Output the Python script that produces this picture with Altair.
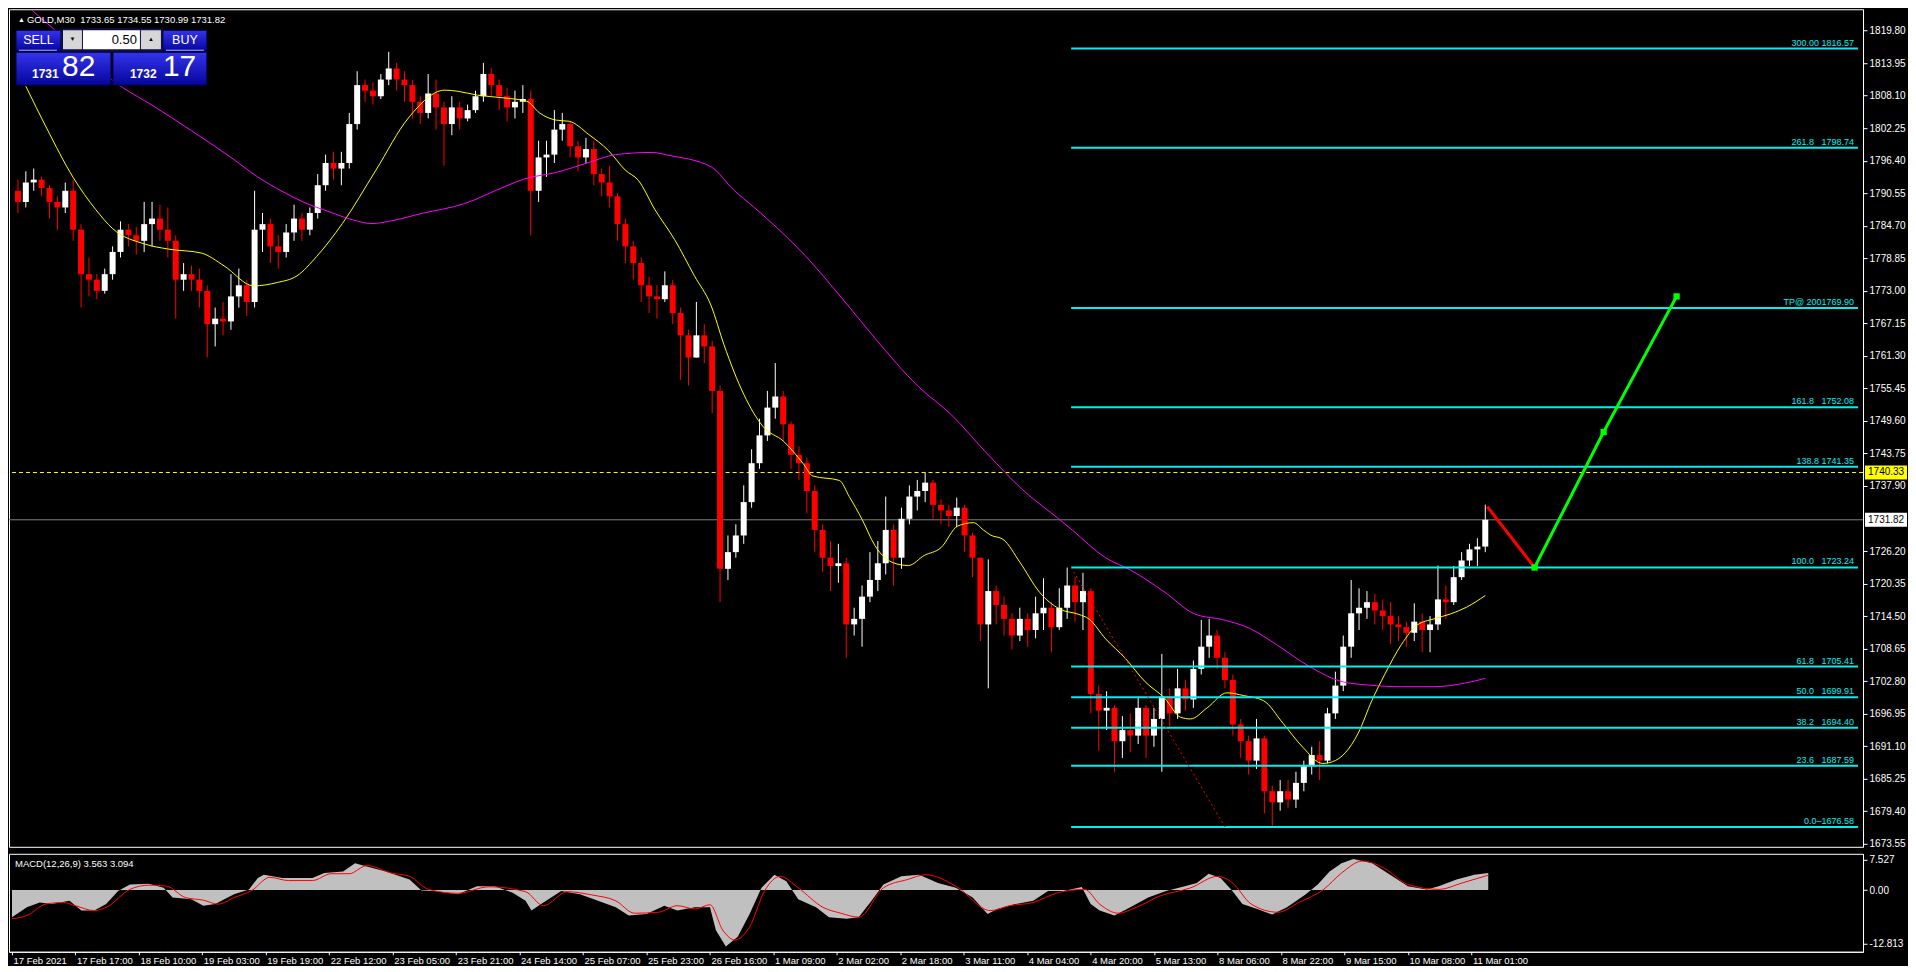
import json
import altair as alt
import pandas as pd

# ---------------- layout ----------------
W = 1855
H_MAIN = 838
H_MACD = 98
X_MAX = 935
FONT = "Liberation Sans"
BG = "#000000"
CYAN = "#00F0F0"

# ---------------- candles (M30, 4 bars grouped) ----------------
first_open = 1791.0
closes = [
    1789, 1792.5, 1793, 1791.5, 1789, 1788, 1791, 1784, 1776, 1775,
    1773, 1776, 1780, 1784, 1783, 1782, 1785, 1786, 1784, 1782,
    1775, 1776, 1775, 1773, 1767, 1768, 1767.5, 1772, 1774, 1771,
    1784, 1785, 1781, 1780, 1783.5, 1786, 1784, 1787, 1792, 1796,
    1795, 1796, 1803, 1810, 1809, 1808, 1811, 1813, 1811, 1810,
    1807, 1805, 1808.5, 1806, 1803, 1806, 1804, 1805.5, 1808, 1812,
    1810, 1808, 1806, 1807, 1807.5, 1791, 1797, 1797.5, 1802, 1803,
    1799, 1797, 1798.5, 1794, 1792.5, 1790, 1785, 1781, 1778, 1774,
    1772, 1771.5, 1774, 1769, 1765, 1761, 1765, 1763, 1755, 1723,
    1726, 1729, 1735, 1742, 1747, 1752, 1754, 1749, 1743.5, 1742,
    1737, 1730, 1725, 1723.5, 1724, 1713, 1714, 1718, 1721, 1724,
    1730, 1725, 1732, 1736, 1737, 1738.5, 1734.5, 1733.5, 1732.5, 1734,
    1729, 1725, 1713, 1719, 1716.5, 1714, 1711, 1714, 1712, 1715,
    1716, 1712.5, 1716, 1720, 1717, 1719, 1700.5, 1697.5, 1698, 1692,
    1694, 1693, 1698, 1693, 1696, 1700, 1697, 1701.5, 1699.5, 1705,
    1709, 1711, 1707, 1703, 1695, 1692, 1688.5, 1692.5, 1683, 1681,
    1683, 1681.5, 1684.5, 1687.5, 1689.5, 1688.5, 1697, 1702, 1709, 1715,
    1716, 1717, 1715.5, 1714.5, 1713, 1712.5, 1711.5, 1713.5, 1712, 1713,
    1717.5, 1717, 1721.5, 1724.5, 1726.5, 1727, 1731.82,
]
highs = [
    1793, 1794.5, 1795, 1793.5, 1792, 1790, 1792.5, 1793, 1785, 1779,
    1776, 1777, 1781, 1785.5, 1785, 1784.5, 1789, 1789, 1788.5, 1788,
    1783, 1778, 1777.5, 1777, 1774, 1770, 1771, 1776, 1777, 1775,
    1791, 1787, 1786, 1783, 1785, 1788.5, 1787, 1788, 1794, 1797.5,
    1798, 1798, 1805, 1812.5, 1811, 1810.5, 1812, 1816, 1814, 1812.5,
    1811, 1808, 1812, 1811, 1807, 1808, 1807, 1806.5, 1809, 1814,
    1813, 1811, 1809.5, 1809, 1810, 1809, 1800, 1800, 1805.5, 1805,
    1803.5, 1800, 1800.5, 1800, 1795, 1795.5, 1790.5, 1786, 1782, 1779,
    1775.5, 1774, 1776.5, 1775, 1770, 1766, 1771, 1767, 1764, 1756,
    1729, 1731, 1738, 1744.5, 1750, 1755, 1760, 1755, 1749.5, 1745,
    1743, 1738, 1731, 1728, 1727.5, 1725, 1716, 1720, 1726, 1728,
    1736, 1731, 1734, 1738, 1739, 1740.3, 1739, 1735.5, 1734.5, 1735.8,
    1734.5, 1729.5, 1725, 1724.7, 1720, 1718, 1715, 1716, 1715, 1718,
    1721.3, 1717, 1719.5, 1723.24, 1721.5, 1722.3, 1719.5, 1702, 1701, 1698.5,
    1696.5, 1697, 1700, 1698.5, 1698, 1707.7, 1701.5, 1705, 1703, 1706.5,
    1713.8, 1714, 1712, 1708, 1704, 1696, 1693, 1696, 1693, 1684,
    1685, 1685, 1686.5, 1688.5, 1691, 1692, 1698, 1704.5, 1711, 1721,
    1719.5, 1719, 1718.5, 1717.5, 1717, 1714.5, 1713.5, 1716.8, 1715, 1714.5,
    1723.6, 1720, 1723.5, 1726, 1727.5, 1728.5, 1734.55,
]
lows = [
    1787, 1788, 1791, 1790, 1786, 1784, 1787, 1782, 1770, 1772,
    1771.5, 1772.5, 1775, 1779, 1781, 1779.5, 1780, 1781, 1782, 1779,
    1768, 1773, 1773, 1770, 1761, 1763, 1765, 1766, 1770, 1768.5,
    1770, 1780, 1778, 1777, 1779, 1782, 1782, 1783, 1786, 1791,
    1793, 1792, 1795, 1802, 1807, 1806.5, 1807.5, 1810, 1809, 1807,
    1804, 1803, 1804, 1802, 1795.5, 1801, 1802, 1803.5, 1805, 1807,
    1808, 1805.5, 1803.5, 1804, 1805, 1783, 1789, 1793.5, 1796, 1800,
    1797, 1794.5, 1796, 1792, 1790, 1788, 1782, 1778, 1775, 1771,
    1769, 1768, 1771, 1767, 1757, 1756, 1761, 1760, 1751, 1717,
    1721, 1725, 1727.5, 1734, 1741, 1746, 1750, 1746, 1741, 1739,
    1733, 1726, 1722.5, 1719, 1720.5, 1707, 1711, 1709, 1717, 1719,
    1722, 1720, 1723, 1731, 1733.5, 1735, 1732, 1731, 1730.5, 1730.5,
    1726, 1721.5, 1710, 1701.5, 1713, 1711, 1708.5, 1710, 1709, 1710.5,
    1712, 1708, 1712, 1714, 1713.5, 1712, 1697, 1690.3, 1694, 1686.5,
    1689, 1690, 1691.5, 1689, 1691, 1686.5, 1694.5, 1696, 1697.5, 1698,
    1704, 1707, 1705, 1701.5, 1693, 1689, 1686, 1687, 1679, 1676.6,
    1679.5, 1680, 1680, 1683, 1686, 1685, 1688, 1696, 1701, 1707,
    1712, 1714, 1713, 1712, 1709.5, 1710, 1709, 1710, 1708, 1708,
    1712, 1714, 1716.5, 1721, 1723.5, 1723.5, 1726,
]
opens = [first_open] + closes[:-1]
bars = [4 * i + 2 for i in range(len(closes))]
candles = pd.DataFrame({"bar": bars, "open": opens, "high": highs, "low": lows, "close": closes})
candles["dir"] = ["up" if c >= o else "down" for o, c in zip(opens, closes)]

# ---------------- moving averages ----------------
ma_fast_bar = [6, 16.5, 30, 41.5, 50, 66.5, 78.5, 95, 106.5, 121.5, 133.5, 143.5, 153.5, 166.5,
               183.5, 200, 218.5, 225, 235, 248.5, 260, 266.5, 275, 281.5, 291.5, 301.5, 310,
               316.5, 325, 335, 345, 353.5, 360, 370, 380, 390, 400, 405, 418.5, 423.5, 430,
               436.5, 446.5, 453.5, 461.5, 470, 478.5, 486.5, 491.5, 495, 501.5, 510, 520, 530,
               540, 545, 553.5, 563.5, 573.5, 583.5, 591.5, 596.5, 605, 615, 623.5, 633.5, 643.5,
               653.5, 663.5, 668.5, 675, 681.5, 688.5, 695, 703.5, 711.5, 720, 728.5, 736.5, 746]
ma_fast_val = [1809.8, 1802.3, 1793.4, 1787.6, 1784.2, 1781.4, 1780.5, 1779.8, 1777.5, 1773.9,
               1774.5, 1775.7, 1779.2, 1785.1, 1794.7, 1804.1, 1809.1, 1808.9, 1808.2, 1807.7,
               1807.1, 1805.0, 1803.7, 1803.5, 1801.1, 1798.2, 1794.7, 1792.9, 1787.6, 1782.2,
               1775.7, 1770.3, 1763.3, 1754.4, 1748.5, 1746.0, 1742.0, 1739.7, 1738.9, 1736.0,
               1731.9, 1727.2, 1724.0, 1723.6, 1725.4, 1726.8, 1730.7, 1731.3, 1730.0, 1729.1,
               1728.3, 1724.2, 1718.8, 1715.8, 1714.8, 1714.0, 1710.4, 1706.9, 1702.7, 1699.7,
               1696.3, 1696.0, 1698.0, 1700.7, 1700.2, 1699.3, 1695.2, 1690.9, 1688.0, 1688.3,
               1689.9, 1693.4, 1699.3, 1704.0, 1709.4, 1712.9, 1714.0, 1714.9, 1716.1, 1718.2]
ma_slow_bar = [9, 18.5, 55, 70, 90, 110, 123.5, 136.5, 146.5, 160, 171.5, 181.5, 190, 206.5,
               228.5, 248.5, 258.5, 275, 291.5, 305, 323.5, 331.5, 353.5, 365, 375, 401.5, 420,
               436.5, 458.5, 475, 493.5, 511.5, 530, 536.5, 553.5, 566.5, 583.5, 598.5, 613.5,
               626.5, 640, 656.5, 673.5, 686.5, 703.5, 720, 736.5, 746]
ma_slow_val = [1823.5, 1820.6, 1809.6, 1806.4, 1801.8, 1797.0, 1793.5, 1790.8, 1789.0, 1787.2,
               1785.8, 1785.1, 1785.5, 1786.9, 1788.7, 1791.7, 1793.1, 1794.3, 1796.1, 1797.5,
               1797.9, 1797.4, 1795.3, 1791.1, 1788.1, 1779.2, 1771.6, 1764.5, 1755.8, 1750.8,
               1743.7, 1737.2, 1731.9, 1730.0, 1725.0, 1722.7, 1718.8, 1714.9, 1713.8, 1712.3,
               1709.4, 1705.5, 1702.7, 1702.1, 1701.8, 1701.8, 1702.5, 1703.3]

# ---------------- Fibonacci expansion ----------------
fib_prices = [1816.57, 1798.74, 1769.90, 1752.08, 1741.35, 1723.24, 1705.41, 1699.91, 1694.40, 1687.59, 1676.58]
NB = "\u00a0"
fib_labels = ["300.00 1816.57", "261.8" + NB * 3 + "1798.74", "TP@ 2001769.90", "161.8" + NB * 3 + "1752.08",
              "138.8 1741.35", "100.0" + NB * 3 + "1723.24", "61.8" + NB * 3 + "1705.41", "50.0" + NB * 3 + "1699.91",
              "38.2" + NB * 3 + "1694.40", "23.6" + NB * 3 + "1687.59", "0.0\u20131676.58"]
fib_start_bar = 536

trend_bar = [536, 614]
trend_price = [1723.24, 1676.58]
proj_down_bar = [747, 771]
proj_down_price = [1734.2, 1723.24]
proj_up_bar = [771, 806, 843]
proj_up_price = [1723.24, 1747.6, 1772.0]

alert_price = 1740.33
bid_price = 1731.82

# ---------------- axes ----------------
price_ticks = [1819.80, 1813.95, 1808.10, 1802.25, 1796.40, 1790.55, 1784.70, 1778.85, 1773.00,
               1767.15, 1761.30, 1755.45, 1749.60, 1743.75, 1737.90, 1726.20, 1720.35, 1714.50,
               1708.65, 1702.80, 1696.95, 1691.10, 1685.25, 1679.40, 1673.55]
time_ticks = [1.5, 33.5, 65.5, 97.5, 129.5, 161.5, 193.5, 225.5, 257.5, 289.5, 321.5, 353.5,
              385.5, 417.5, 449.5, 481.5, 513.5, 545.5, 577.5, 609.5, 641.5, 673.5, 705.5, 737.5]
time_labels = ["17 Feb 2021", "17 Feb 17:00", "18 Feb 10:00", "19 Feb 03:00", "19 Feb 19:00",
               "22 Feb 12:00", "23 Feb 05:00", "23 Feb 21:00", "24 Feb 14:00", "25 Feb 07:00",
               "25 Feb 23:00", "26 Feb 16:00", "1 Mar 09:00", "2 Mar 02:00", "2 Mar 18:00",
               "3 Mar 11:00", "4 Mar 04:00", "4 Mar 20:00", "5 Mar 13:00", "8 Mar 06:00",
               "8 Mar 22:00", "9 Mar 15:00", "10 Mar 08:00", "11 Mar 01:00"]

# ---------------- MACD ----------------
hist_bar = [1.5, 9, 15.5, 21.5, 30.5, 36.5, 43, 49, 55, 61, 70.5, 78, 82.5, 92, 98, 104, 113.5, 121,
            125.5, 128.5, 138, 153, 159, 168.5, 174.5, 180.5, 190, 202, 208, 214.5, 226.5, 236, 245,
            254, 260.5, 263.5, 269.5, 278.5, 288, 297, 306, 312.5, 321.5, 330.5, 337, 346, 353.5,
            356.5, 361.5, 367.5, 373.5, 379.5, 386, 392, 398, 407, 413.5, 422.5, 428.5, 435, 441,
            450, 459, 468.5, 477.5, 486, 493.5, 498.5, 507.5, 516.5, 524, 532, 541, 545.5, 550,
            557.5, 565.5, 574.5, 583.5, 593, 599, 605, 611, 617, 622, 629.5, 637, 644.5, 654, 660,
            666, 672, 678, 687.5, 696.5, 705.5, 715, 721, 730, 739, 746]
hist_val = [-5.63, -3.59, -2.58, -2.92, -2.24, -4.27, -4.27, -2.92, -0.2, 1.15,
            1.29, 0.47, -1.56, -1.90, -3.25, -2.92, -0.88, 0.14, 2.51, 3.19,
            2.51, 2.51, 3.53, 3.86, 5.56, 4.88, 3.86, 2.17, -0.07, -0.2,
            -0.88, 0.81, 0.81, -0.54, -2.24, -4.27, -2.58, -0.2, -0.88, -2.24,
            -3.59, -5.29, -4.95, -3.25, -4.27, -3.59, -3.59, -8.34, -11.7, -9.69,
            -4.95, 0.47, 3.19, 1.83, -1.90, -3.59, -5.63, -5.97, -5.63, -2.24,
            1.15, 2.85, 3.19, 1.49, 0.47, -1.56, -4.95, -3.93, -2.92, -2.24,
            -0.2, -0.2, 0.61, -2.92, -4.27, -5.29, -3.59, -1.56, -0.2, 0.81,
            1.49, 3.39, 2.51, -0.2, -2.92, -3.93, -5.08, -3.59, -0.88, 1.15,
            3.86, 5.56, 6.44, 5.56, 3.19, 0.81, 0.14, 0.81, 2.17, 3.19, 3.56]
signal_bar = [1.5, 9, 18.5, 27.5, 33.5, 43, 49, 61, 70.5, 79.5, 89, 98, 105.5, 113.5, 122.5, 131.5,
              141, 153, 162.5, 171.5, 180.5, 193, 202, 211.5, 226.5, 242, 260.5, 269.5, 281.5, 294,
              306, 315.5, 327.5, 337, 346, 353.5, 360, 366, 373.5, 381, 389, 398, 410.5, 419.5,
              428.5, 441, 453, 462.5, 477.5, 495, 504.5, 516.5, 529, 542.5, 550, 559.5, 568.5,
              580.5, 596, 609.5, 617, 626.5, 640, 650.5, 663, 672, 682.5, 693.5, 705.5, 721, 733, 746]
signal_val = [-5.97, -5.29, -2.92, -2.58, -3.25, -4.27, -3.59, 0.14, 1.02, 0.81,
              -1.56, -2.10, -2.92, -1.56, -0.07, 2.64, 1.97, 1.97, 3.39, 3.39,
              5.08, 3.53, 2.85, 0.14, -0.68, 0.68, -0.34, -3.25, -0.34, -1.02,
              -2.24, -4.81, -4.61, -3.25, -3.93, -3.05, -8.34, -10.37, -7.66, -0.2,
              2.85, 0.47, -3.59, -4.81, -5.63, 0.47, 2.17, 3.19, 0.81, -4.27,
              -3.25, -2.58, -0.54, 0.14, -2.92, -4.81, -3.59, -1.22, 0.47, 2.85,
              1.49, -2.92, -4.61, -2.58, 0.14, 3.53, 6.03, 4.54, 1.15, 0.14, 1.49, 3.09]

# ---------------- scales & axes ----------------
xs = alt.Scale(domain=[0, X_MAX], nice=False, zero=False)
ys = alt.Scale(domain=[1673.0, 1823.65], nice=False, zero=False)
ym = alt.Scale(domain=[-12.813, 7.527], nice=False, zero=False)

AX_COMMON = dict(title=None, labelFont=FONT, labelColor="#FFFFFF", tickColor="#FFFFFF",
                 domainColor="#FFFFFF", labelOverlap=False, labelBound=False, grid=False)
y_axis_main = alt.Axis(orient="right", values=price_ticks, format=".2f", tickSize=4, labelPadding=2,
                       labelFontSize=10, **AX_COMMON)
label_expr = f"{json.dumps(time_labels)}[indexof({json.dumps(time_ticks)}, datum.value)]"
x_axis_macd = alt.Axis(values=time_ticks, labelExpr=label_expr, labelAlign="left", labelOffset=1,
                       tickSize=3, labelPadding=1, labelFontSize=9.5, labelFlush=False, **AX_COMMON)
y_axis_macd = alt.Axis(orient="right", values=[6.3, 0, -11.2], tickSize=4, labelPadding=2,
                       labelExpr="datum.value > 1 ? '7.527' : (datum.value < -1 ? '-12.813' : '0.00')",
                       labelFontSize=10, **AX_COMMON)

one = pd.DataFrame({"k": [0]})


def X(field):
    return alt.X(field, type="quantitative", scale=xs, axis=None)


def Y(field):
    return alt.Y(field, type="quantitative", scale=ys, axis=y_axis_main)


def box(x1, x2, y1, y2, fill, stroke=None):
    kw = {"fill": fill}
    if stroke:
        kw.update(stroke=stroke, strokeWidth=1)
    return alt.Chart(one).mark_rect(**kw).encode(
        x=alt.value(x1), x2=alt.value(x2), y=alt.value(y1), y2=alt.value(y2))


def txt(t, x, y, size, color, align="left", weight="normal"):
    return alt.Chart(one).mark_text(text=t, fontSize=size, color=color, align=align,
                                    baseline="middle", font=FONT, fontWeight=weight).encode(
        x=alt.value(x), y=alt.value(y))


# ---------------- main panel layers ----------------
bid_line = alt.Chart(pd.DataFrame({"p": [bid_price]})).mark_rule(color="#808080", strokeWidth=1).encode(y=Y("p"))
alert_line = alt.Chart(pd.DataFrame({"p": [alert_price]})).mark_rule(
    color="#FFFF00", strokeWidth=1, strokeDash=[4, 3]).encode(y=Y("p"))

color_dir = alt.Color("dir:N", scale=alt.Scale(domain=["up", "down"], range=["#FFFFFF", "#FF0000"]), legend=None)
wicks = alt.Chart(candles).mark_rule(strokeWidth=1).encode(x=X("bar"), y=Y("low"), y2="high", color=color_dir)
bodies = alt.Chart(candles).mark_bar(size=6).encode(x=X("bar"), y=Y("open"), y2="close", color=color_dir)

ma_fast = alt.Chart(pd.DataFrame({"bar": ma_fast_bar, "v": ma_fast_val})).mark_line(
    color="#FFFF00", strokeWidth=1, interpolate="monotone", clip=True).encode(x=X("bar"), y=Y("v"))
ma_slow = alt.Chart(pd.DataFrame({"bar": ma_slow_bar, "v": ma_slow_val})).mark_line(
    color="#FF00FF", strokeWidth=1, interpolate="monotone", clip=True).encode(x=X("bar"), y=Y("v"))

fib_df = pd.DataFrame({"p": fib_prices, "label": fib_labels, "start": fib_start_bar, "end": X_MAX})
fib_lines = alt.Chart(fib_df).mark_rule(color=CYAN, strokeWidth=2).encode(x=X("start"), x2="end", y=Y("p"))
fib_text = alt.Chart(fib_df).mark_text(align="right", baseline="bottom", dx=-4, dy=-1, fontSize=9,
                                       font=FONT, color=CYAN).encode(x=X("end"), y=Y("p"), text="label:N")

trend = alt.Chart(pd.DataFrame({"bar": trend_bar, "v": trend_price})).mark_line(
    color="#FF0000", strokeWidth=1, strokeDash=[2, 3]).encode(x=X("bar"), y=Y("v"))
proj_down = alt.Chart(pd.DataFrame({"bar": proj_down_bar, "v": proj_down_price})).mark_line(
    color="#FF0000", strokeWidth=3).encode(x=X("bar"), y=Y("v"))
up_df = pd.DataFrame({"bar": proj_up_bar, "v": proj_up_price})
proj_up = alt.Chart(up_df).mark_line(color="#00FF00", strokeWidth=3).encode(x=X("bar"), y=Y("v"))
proj_pts = alt.Chart(up_df).mark_square(color="#00FF00", size=40, opacity=1).encode(x=X("bar"), y=Y("v"))


def price_tag(p, label, fill):
    d = pd.DataFrame({"p": [p], "t": [label]})
    r = alt.Chart(d).mark_rect(yOffset=-7, y2Offset=7, fill=fill).encode(
        x=alt.value(W + 2), x2=alt.value(W + 44), y=Y("p"), y2="p")
    t = alt.Chart(d).mark_text(align="left", baseline="middle", fontSize=10, font=FONT,
                               color="#000000").encode(x=alt.value(W + 5), y=Y("p"), text="t:N")
    return [r, t]


tags = price_tag(alert_price, "1740.33", "#FFFF00") + price_tag(bid_price, "1731.82", "#FFFFFF")

grad = alt.LinearGradient(gradient="linear",
                          stops=[alt.GradientStop(color="#3434ee", offset=0),
                                 alt.GradientStop(color="#05059a", offset=1)],
                          x1=0, x2=0, y1=0, y2=1)
widget = [
    txt("\u25b2", 9, 11, 7, "#FFFFFF"),
    txt("GOLD,M30" + NB * 2 + "1733.65 1734.55 1730.99 1731.82", 18, 11, 9.5, "#FFFFFF"),
    box(7, 52, 21, 42, grad, "#000040"),
    box(154, 198, 21, 42, grad, "#000040"),
    box(52, 154, 19, 43, "#101040"),
    box(54, 73, 21, 40, "#D6D6D6"),
    box(74, 131, 21, 40, "#FFFFFF"),
    box(132, 152, 21, 40, "#D6D6D6"),
    txt("\u25bc", 63.5, 30, 6, "#000000", align="center"),
    txt("\u25b2", 142, 30, 6, "#000000", align="center"),
    txt("0.50", 128, 30.5, 13, "#000000", align="right"),
    txt("SELL", 29.5, 31, 12.5, "#FFFFFF", align="center"),
    txt("BUY", 176, 31, 12.5, "#FFFFFF", align="center"),
    alt.Chart(one).mark_rule(color="#A8B0F0", strokeWidth=1).encode(
        x=alt.value(10), x2=alt.value(48), y=alt.value(41)),
    alt.Chart(one).mark_rule(color="#A8B0F0", strokeWidth=1).encode(
        x=alt.value(157), x2=alt.value(195), y=alt.value(41)),
    box(7, 102, 43, 76, grad, "#000040"),
    box(104, 198, 43, 76, grad, "#000040"),
    txt("1731", 23, 65, 12, "#FFFFFF", weight="bold"),
    txt("82", 53, 58, 30, "#FFFFFF"),
    txt("1732", 121, 65, 12, "#FFFFFF", weight="bold"),
    txt("17", 154, 58, 30, "#FFFFFF"),
]

main = alt.layer(bid_line, alert_line, wicks, bodies, ma_fast, ma_slow, fib_lines, fib_text, trend,
                 proj_down, proj_up, proj_pts, *tags, *widget).properties(width=W, height=H_MAIN)

# ---------------- MACD panel ----------------
hist = alt.Chart(pd.DataFrame({"bar": hist_bar, "v": hist_val})).mark_area(
    color="#C0C0C0", opacity=1, interpolate="linear").encode(
    x=alt.X("bar:Q", scale=xs, axis=x_axis_macd), y=alt.Y("v:Q", scale=ym, axis=y_axis_macd))
signal = alt.Chart(pd.DataFrame({"bar": signal_bar, "v": signal_val})).mark_line(
    color="#FF0000", strokeWidth=1, interpolate="monotone").encode(
    x=alt.X("bar:Q", scale=xs, axis=x_axis_macd), y=alt.Y("v:Q", scale=ym, axis=y_axis_macd))
macd_title = txt("MACD(12,26,9) 3.563 3.094", 6, 10, 9.5, "#FFFFFF")

macd = alt.layer(hist, signal, macd_title).properties(width=W, height=H_MACD)

chart = alt.vconcat(main, macd, spacing=3).properties(background=BG, padding=0).configure_view(
    stroke="#FFFFFF", strokeWidth=1).configure_axis(grid=False)

chart.save("out.html", embed_options={"renderer": "svg", "actions": False})
